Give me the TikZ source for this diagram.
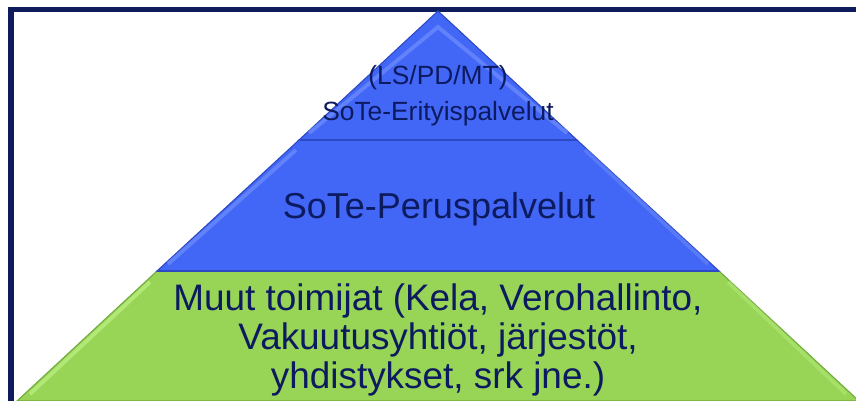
\documentclass[tikz,border=0pt]{standalone}
\usepackage{fontspec}
\setmainfont{Liberation Sans}
\usepackage{xcolor}
\usepackage{tikz}
\usetikzlibrary{calc}

\definecolor{framenavy}{RGB}{14,28,92}
\definecolor{textnavy}{RGB}{12,26,96}
\definecolor{tierblue}{RGB}{66,102,245}
\definecolor{tierblueedge}{RGB}{44,72,196}
\definecolor{tierbluelight}{RGB}{120,150,255}
\definecolor{tiergreen}{RGB}{152,212,86}
\definecolor{tiergreenedge}{RGB}{112,170,60}
\definecolor{tiergreenlight}{RGB}{196,246,140}

\begin{document}
\begin{tikzpicture}[x=0.02cm,y=-0.02cm,
	tier/.style={line width=0.6pt,line join=miter},
	bevel/.style={line width=2.2pt,opacity=0.6},
	label/.style={text=textnavy,inner sep=0pt,align=center}]
	\useasboundingbox (0,0) rectangle (856,401);
	\clip (0,0) rectangle (856,401);
	%
	\fill[white] (0,0) rectangle (856,401);
	\draw[framenavy,line width=2.9pt] (11,420) -- (11,9.5) -- (880,9.5);
	%
	\coordinate (apex) at (438,11);
	\coordinate (l1) at (299,140);
	\coordinate (r1) at (577,140);
	\coordinate (l2) at (157,271);
	\coordinate (r2) at (719,271);
	\coordinate (l3) at (17,401);
	\coordinate (r3) at (859,401);
	%
	\filldraw[tier,fill=tiergreen,draw=tiergreenedge] (l2) -- (r2) -- (r3) -- (l3) -- cycle;
	\filldraw[tier,fill=tierblue,draw=tierblueedge] (l1) -- (r1) -- (r2) -- (l2) -- cycle;
	\filldraw[tier,fill=tierblue,draw=tierblueedge] (apex) -- (r1) -- (l1) -- cycle;
	%
	\draw[bevel,tierbluelight] (309,133) -- (438,27) -- (567,133);
	\draw[bevel,tierbluelight] (168,264) -- (296,150);
	\draw[bevel,tierbluelight!70!tierblue] (708,264) -- (585,150);
	\draw[bevel,tiergreenlight] (30,394) -- (150,282);
	\draw[bevel,tiergreenlight!60!tiergreen] (846,394) -- (728,282);
	\draw[tierblueedge,line width=1.6pt] (l1) -- (r1);
	\draw[tierblueedge,line width=1.6pt] (l2) -- (r2);
	%
	\node[label,font=\fontsize{15}{18}\selectfont] (lspdmt) at (438,78) {(LS/PD/MT)};
	\node[label,font=\fontsize{15}{18}\selectfont] (erit) at (438,114) {SoTe-Erityispalvelut};
	\node[label,font=\fontsize{20.5}{24}\selectfont] (perus) at (439,209) {SoTe-Peruspalvelut};
	\node[label,font=\fontsize{21}{22.3}\selectfont] (muut) at (438,340)
		{Muut toimijat (Kela, Verohallinto,\\Vakuutusyhtiöt, järjestöt,\\yhdistykset, srk jne.)};
\end{tikzpicture}
\end{document}
